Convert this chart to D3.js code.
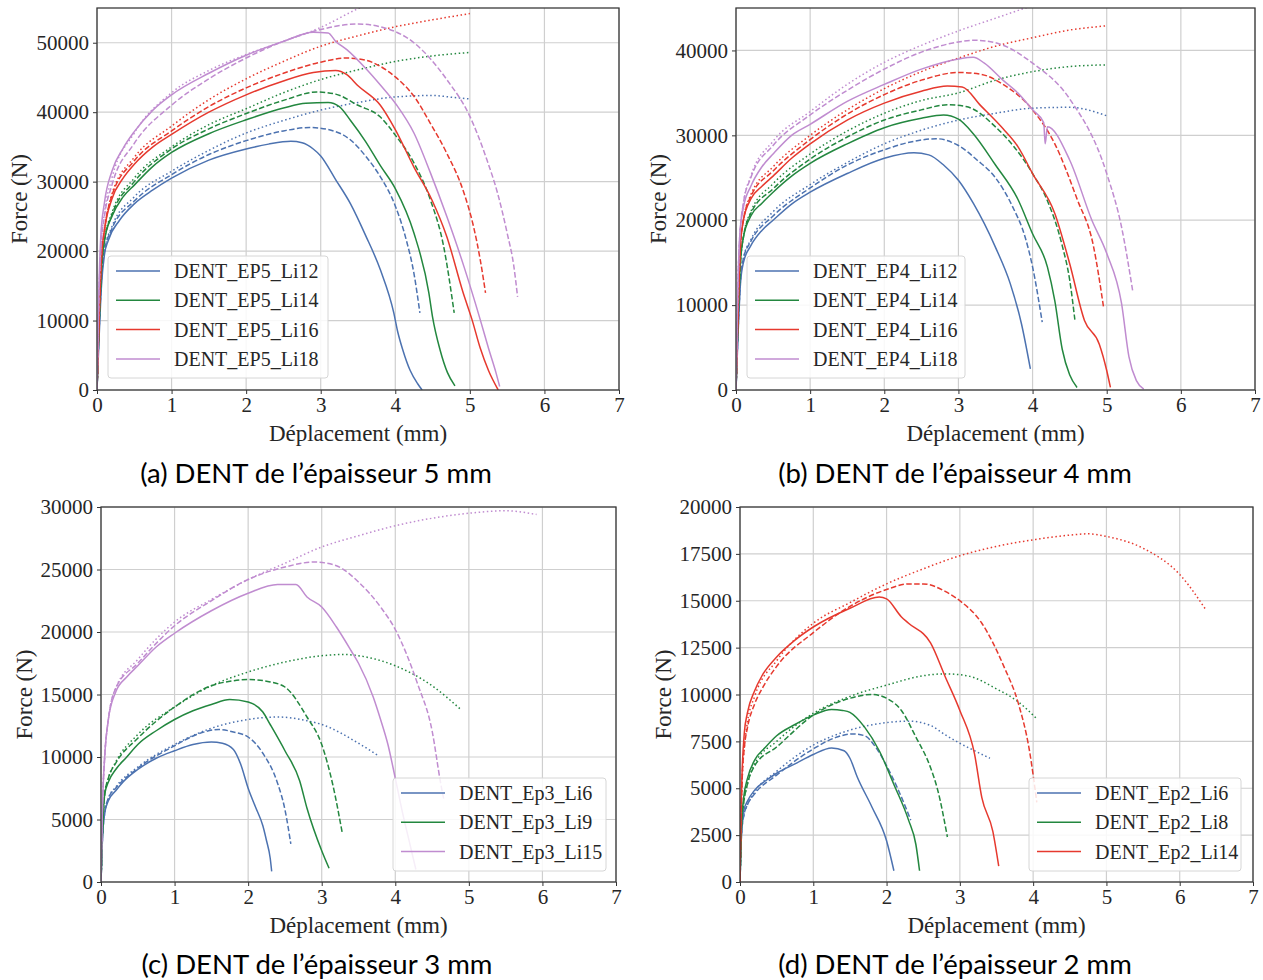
<!DOCTYPE html>
<html><head><meta charset="utf-8">
<script src="https://cdn.jsdelivr.net/npm/d3@7"></script>
<style>body{margin:0;background:#fff}</style>
</head><body><svg id="c" width="1263" height="980"></svg>
<script>
// ---------- DATA ----------
const xTicks = [0,1,2,3,4,5,6,7];
const yTicksA = [0,10000,20000,30000,40000,50000];
const yTicksB = [0,10000,20000,30000,40000];
const yTicksC = [0,5000,10000,15000,20000,25000,30000];
const yTicksD = [0,2500,5000,7500,10000,12500,15000,17500,20000];

const namesA = ["DENT_EP5_Li12","DENT_EP5_Li14","DENT_EP5_Li16","DENT_EP5_Li18"];
const namesB = ["DENT_EP4_Li12","DENT_EP4_Li14","DENT_EP4_Li16","DENT_EP4_Li18"];
const namesC = ["DENT_Ep3_Li6","DENT_Ep3_Li9","DENT_Ep3_Li15"];
const namesD = ["DENT_Ep2_Li6","DENT_Ep2_Li8","DENT_Ep2_Li14"];

const captions = ["(a) DENT de l’épaisseur 5 mm","(b) DENT de l’épaisseur 4 mm","(c) DENT de l’épaisseur 3 mm","(d) DENT de l’épaisseur 2 mm"];

// Panel (a) – 5 mm
const a_Li12_exp = [[0,0],[0.03,8000],[0.06,15000],[0.1,19500],[0.15,21500],[0.3,24400],[0.5,26800],[0.75,28800],[1.0,30500],[1.5,33100],[2.0,34700],[2.3,35400],[2.6,35800],[2.75,35600],[2.9,34700],[3.0,33700],[3.2,30300],[3.4,26800],[3.6,22300],[3.8,17300],[3.98,11100],[4.03,8500],[4.1,5800],[4.2,2800],[4.3,900],[4.36,0]];
const a_Li12_sim = [[0,0],[0.03,9000],[0.06,16000],[0.1,20000],[0.2,23200],[0.5,27200],[1.0,31000],[1.5,33900],[2.0,35900],[2.5,37300],[2.85,37800],[3.1,37500],[3.4,36000],[3.6,33700],[3.8,30700],[4.0,26500],[4.15,21500],[4.25,16800],[4.33,11100]];
const a_Li12_mod = [[0,0],[0.03,9000],[0.06,16000],[0.1,20000],[0.2,23500],[0.5,27800],[1.0,31500],[1.5,34500],[2.0,37000],[2.5,38800],[3.0,40300],[3.5,41400],[4.0,42200],[4.5,42400],[4.8,42100],[5.0,41900]];
const a_Li14_exp = [[0,0],[0.03,10000],[0.06,17500],[0.1,21500],[0.2,25000],[0.35,27800],[0.5,29500],[0.75,32200],[1.0,34200],[1.5,36900],[2.0,38900],[2.5,40600],[2.8,41300],[3.1,41400],[3.25,40800],[3.4,38800],[3.6,35800],[3.8,32300],[4.0,29000],[4.25,22600],[4.45,14000],[4.5,10500],[4.6,5800],[4.7,2500],[4.8,600]];
const a_Li14_sim = [[0,0],[0.03,10000],[0.06,17500],[0.1,21500],[0.2,25200],[0.5,30000],[1.0,34700],[1.5,37600],[2.0,39800],[2.5,41700],[2.95,42900],[3.2,42600],[3.5,41000],[3.8,39300],[4.0,36700],[4.25,32700],[4.47,27400],[4.65,20600],[4.79,11100]];
const a_Li14_mod = [[0,0],[0.03,10000],[0.06,17500],[0.1,21500],[0.2,25500],[0.5,30500],[1.0,35000],[1.5,38200],[2.0,40500],[2.5,42800],[3.0,44700],[3.5,46100],[4.0,47300],[4.5,48100],[5.0,48600]];
const a_Li16_exp = [[0,0],[0.03,11000],[0.06,19000],[0.1,23000],[0.2,27500],[0.35,30500],[0.5,32500],[0.75,35000],[1.0,36800],[1.5,40000],[2.0,42500],[2.5,44500],[2.9,45700],[3.2,46000],[3.35,45400],[3.5,43800],[3.8,41000],[4.0,37500],[4.25,32100],[4.49,27400],[4.69,22100],[4.91,14000],[5.03,10100],[5.14,6000],[5.25,2800],[5.38,0]];
const a_Li16_sim = [[0,0],[0.03,11000],[0.06,19000],[0.1,23000],[0.2,28000],[0.5,33000],[1.0,37300],[1.5,40800],[2.0,43500],[2.5,45600],[3.0,47200],[3.35,47800],[3.6,47500],[3.8,46600],[4.02,44900],[4.25,42300],[4.47,38400],[4.69,34100],[4.92,28400],[5.05,23500],[5.14,18700],[5.21,14000]];
const a_Li16_mod = [[0,0],[0.03,11000],[0.06,19000],[0.1,23000],[0.2,28200],[0.5,33500],[1.0,38000],[1.5,41800],[2.0,44800],[2.5,47300],[3.0,49500],[3.5,51000],[4.0,52300],[4.5,53300],[5.0,54200]];
const a_Li18_exp = [[0,0],[0.02,12000],[0.05,22000],[0.1,27000],[0.2,31500],[0.35,34800],[0.5,37200],[0.75,40300],[1.0,42500],[1.5,45600],[2.0,48200],[2.5,50200],[2.9,51500],[3.1,51400],[3.2,50200],[3.35,49000],[3.62,46100],[3.8,43900],[4.02,41000],[4.25,37000],[4.47,31300],[4.69,25000],[4.92,17800],[5.14,10100],[5.25,6000],[5.35,2500],[5.4,500]];
const a_Li18_sim = [[0,0],[0.02,11000],[0.05,20000],[0.1,25000],[0.2,29500],[0.5,35500],[1.0,41000],[1.5,44800],[2.0,47800],[2.5,50200],[3.0,51900],[3.5,52700],[3.8,52300],[4.25,50000],[4.69,44700],[5.0,39400],[5.23,33100],[5.37,28400],[5.5,22600],[5.59,17800],[5.64,13400]];
const a_Li18_mod = [[0,0],[0.02,11000],[0.05,20000],[0.1,25500],[0.2,30500],[0.5,37000],[1.0,42800],[1.5,46000],[2.0,48300],[2.5,50200],[3.0,52200],[3.5,54900],[4.0,57000]];

// Panel (b) – 4 mm
const b_Li12_exp = [[0,0],[0.03,7000],[0.06,12500],[0.1,15000],[0.2,17000],[0.35,18800],[0.5,20000],[0.75,21900],[1.0,23300],[1.5,25500],[2.0,27300],[2.4,27950],[2.6,27700],[2.8,26500],[3.0,24700],[3.2,22000],[3.5,16800],[3.7,12500],[3.85,7800],[3.97,2500]];
const b_Li12_sim = [[0,0],[0.03,7500],[0.06,13000],[0.1,15500],[0.2,17500],[0.5,20500],[1.0,23800],[1.5,26500],[2.0,28300],[2.4,29300],[2.7,29600],[3.0,28800],[3.25,27100],[3.5,25000],[3.73,21600],[3.9,18000],[4.0,14500],[4.13,8000]];
const b_Li12_mod = [[0,0],[0.03,7500],[0.06,13000],[0.1,15500],[0.2,17700],[0.5,21000],[1.0,24200],[1.5,26800],[2.0,29000],[2.5,30600],[3.0,31800],[3.5,32600],[4.0,33200],[4.5,33300],[5.0,32300]];
const b_Li14_exp = [[0,0],[0.03,9000],[0.06,15000],[0.1,18000],[0.2,20500],[0.35,22000],[0.5,23300],[0.75,25200],[1.0,26700],[1.5,29000],[2.0,30900],[2.5,32000],[2.8,32400],[3.0,31900],[3.2,30200],[3.5,26500],[3.8,22500],[4.0,18400],[4.2,14500],[4.3,10500],[4.4,4800],[4.5,1800],[4.6,300]];
const b_Li14_sim = [[0,0],[0.03,9000],[0.06,15000],[0.1,18000],[0.2,20800],[0.5,23700],[1.0,27200],[1.5,29800],[2.0,31800],[2.5,33000],[2.85,33600],[3.1,33400],[3.5,31000],[4.0,25500],[4.2,22300],[4.4,17000],[4.5,13000],[4.57,8300]];
const b_Li14_mod = [[0,0],[0.03,9000],[0.06,15000],[0.1,18000],[0.2,21000],[0.5,24300],[1.0,27800],[1.5,30500],[2.0,32600],[2.5,34100],[3.0,35000],[3.5,36500],[4.0,37500],[4.5,38100],[5.0,38300]];
const b_Li16_exp = [[0,0],[0.03,10000],[0.06,17000],[0.1,20000],[0.2,22500],[0.35,24000],[0.5,25200],[0.75,27300],[1.0,29000],[1.5,31800],[2.0,33800],[2.5,35200],[2.85,35800],[3.05,35700],[3.3,33500],[3.6,30800],[3.8,28700],[4.0,25500],[4.3,20800],[4.5,14900],[4.7,8200],[4.9,5400],[5.0,2300],[5.05,300]];
const b_Li16_sim = [[0,0],[0.03,10000],[0.06,17000],[0.1,20000],[0.2,22800],[0.5,25800],[1.0,29500],[1.5,32500],[2.0,34800],[2.5,36500],[3.0,37400],[3.3,37200],[3.6,36000],[4.0,33000],[4.3,29000],[4.6,22500],[4.82,17000],[4.96,9600]];
const b_Li16_mod = [[0,0],[0.03,10000],[0.06,17000],[0.1,20000],[0.2,23000],[0.5,26300],[1.0,30000],[1.5,33000],[2.0,35500],[2.5,37500],[3.0,39100],[3.5,40500],[4.0,41500],[4.5,42400],[5.0,42900]];
const b_Li18_exp = [[0,0],[0.02,10000],[0.05,18000],[0.1,21500],[0.2,24000],[0.35,26300],[0.5,27800],[0.75,30000],[1.0,31300],[1.5,34000],[2.0,36000],[2.5,37800],[3.0,39000],[3.2,39200],[3.35,38500],[3.6,36500],[3.8,35000],[4.0,33000],[4.15,31500],[4.17,29000],[4.2,31000],[4.5,27100],[4.8,20000],[5.0,16100],[5.2,10200],[5.3,3900],[5.4,1100],[5.5,100]];
const b_Li18_sim = [[0,0],[0.02,10000],[0.05,18000],[0.1,22000],[0.2,25000],[0.5,28800],[1.0,32400],[1.5,35300],[2.0,37800],[2.5,39800],[3.0,41000],[3.2,41200],[3.5,40900],[4.0,38500],[4.5,34300],[5.0,25500],[5.2,19200],[5.35,11700]];
const b_Li18_mod = [[0,0],[0.02,10000],[0.05,18000],[0.1,22000],[0.2,25200],[0.5,29300],[1.0,32800],[1.5,36000],[2.0,38600],[2.5,40600],[3.0,42300],[3.5,43800],[4.0,45300]];

// Panel (c) – 3 mm
const c_Li6_exp = [[0,0],[0.02,3500],[0.05,5500],[0.1,6500],[0.2,7300],[0.3,8000],[0.5,9000],[0.75,9900],[1.0,10500],[1.25,11000],[1.5,11200],[1.65,11100],[1.8,10600],[1.9,9400],[2.0,7500],[2.1,6000],[2.2,4500],[2.25,3300],[2.3,1900],[2.32,850]];
const c_Li6_sim = [[0,0],[0.02,3500],[0.05,5500],[0.1,6700],[0.2,7500],[0.5,9100],[1.0,10900],[1.3,11800],[1.6,12200],[1.8,12000],[2.0,11600],[2.2,10300],[2.4,7900],[2.5,5800],[2.58,3050]];
const c_Li6_mod = [[0,0],[0.02,3500],[0.05,5500],[0.1,6700],[0.2,7600],[0.5,9200],[1.0,11000],[1.5,12300],[2.0,13000],[2.4,13200],[2.8,12900],[3.0,12600],[3.5,11100],[3.77,10100]];
const c_Li9_exp = [[0,0],[0.02,4000],[0.05,7000],[0.1,8000],[0.2,9000],[0.35,10000],[0.5,11000],[0.75,12100],[1.0,13000],[1.25,13700],[1.5,14200],[1.75,14600],[2.0,14400],[2.2,13600],[2.3,12600],[2.5,10500],[2.7,8100],[2.8,5900],[3.0,2500],[3.1,1100]];
const c_Li9_sim = [[0,0],[0.02,4000],[0.05,7000],[0.1,8300],[0.2,9500],[0.5,11500],[1.0,14000],[1.5,15700],[1.8,16100],[2.0,16200],[2.3,16000],[2.5,15600],[2.8,13200],[3.0,11000],[3.15,7800],[3.28,3900]];
const c_Li9_mod = [[0,0],[0.02,4000],[0.05,7000],[0.1,8300],[0.2,9600],[0.5,11800],[1.0,14000],[1.5,15700],[2.0,16800],[2.5,17600],[3.0,18100],[3.3,18200],[3.6,18000],[4.0,17300],[4.5,15700],[4.89,13800]];
const c_Li15_exp = [[0,0],[0.02,6000],[0.05,10000],[0.1,13000],[0.2,15200],[0.35,16400],[0.5,17300],[0.75,18800],[1.0,19900],[1.5,21700],[2.0,23100],[2.4,23800],[2.65,23800],[2.8,22800],[3.0,22000],[3.2,20400],[3.4,18500],[3.5,17500],[3.7,14800],[3.8,13000],[3.9,11000],[4.0,8300],[4.1,5500],[4.2,3000],[4.28,1000]];
const c_Li15_sim = [[0,0],[0.02,6000],[0.05,10000],[0.1,13000],[0.2,15500],[0.5,17500],[1.0,20500],[1.5,22500],[2.0,24200],[2.5,25200],[2.9,25600],[3.2,25300],[3.5,24000],[3.8,22000],[4.0,20200],[4.3,15900],[4.5,12100],[4.62,7800],[4.66,6600]];
const c_Li15_mod = [[0,0],[0.02,6000],[0.05,10000],[0.1,13000],[0.2,15500],[0.5,17800],[1.0,20800],[1.5,22600],[2.0,24200],[2.5,25500],[3.0,26800],[3.5,27700],[4.0,28500],[4.5,29100],[5.0,29500],[5.5,29700],[5.92,29400]];

// Panel (d) – 2 mm
const d_Li6_exp = [[0,0],[0.02,2500],[0.05,3800],[0.1,4300],[0.2,4900],[0.35,5400],[0.5,5800],[0.75,6300],[1.0,6800],[1.25,7150],[1.42,7000],[1.5,6600],[1.6,5600],[1.8,4000],[2.0,2200],[2.1,600]];
const d_Li6_sim = [[0,0],[0.02,2500],[0.05,3500],[0.1,4100],[0.2,4700],[0.5,5700],[1.0,7100],[1.3,7700],[1.55,7900],[1.7,7800],[1.85,7200],[2.0,6200],[2.15,5000],[2.33,3300]];
const d_Li6_mod = [[0,0],[0.02,2500],[0.05,3500],[0.1,4100],[0.2,4800],[0.5,5900],[1.0,7300],[1.5,8100],[2.0,8500],[2.3,8580],[2.6,8350],[2.8,7850],[3.0,7400],[3.2,7000],[3.41,6600]];
const d_Li8_exp = [[0,0],[0.02,3000],[0.05,4500],[0.1,5500],[0.2,6500],[0.35,7200],[0.5,7800],[0.75,8400],[1.0,8900],[1.25,9200],[1.4,9150],[1.5,9050],[1.7,8260],[1.9,7000],[2.1,5200],[2.3,3300],[2.4,2000],[2.45,600]];
const d_Li8_sim = [[0,0],[0.02,3000],[0.05,4200],[0.1,5200],[0.2,6200],[0.5,7200],[1.0,8900],[1.5,9800],[1.8,10000],[2.0,9800],[2.2,9160],[2.4,7730],[2.6,6100],[2.7,4870],[2.83,2400]];
const d_Li8_mod = [[0,0],[0.02,3000],[0.05,4200],[0.1,5200],[0.2,6300],[0.5,7500],[1.0,9000],[1.5,9900],[2.0,10500],[2.5,11000],[2.8,11100],[3.1,11000],[3.5,10300],[3.8,9600],[4.05,8700]];
const d_Li14_exp = [[0,0],[0.01,3000],[0.03,6000],[0.06,8000],[0.1,9000],[0.2,10200],[0.3,11000],[0.5,12000],[0.75,12900],[1.0,13600],[1.5,14600],[1.9,15200],[2.0,15100],[2.2,14150],[2.3,13800],[2.6,12750],[2.8,10950],[3.0,9150],[3.2,6830],[3.3,4500],[3.45,2700],[3.53,850]];
const d_Li14_sim = [[0,0],[0.01,2500],[0.03,5500],[0.06,7200],[0.1,8200],[0.2,9500],[0.3,10300],[0.5,11500],[1.0,13300],[1.5,14700],[2.0,15600],[2.3,15900],[2.5,15900],[2.8,15500],[3.0,15000],[3.3,13800],[3.6,11500],[3.8,9500],[3.95,7000],[4.05,4250]];
const d_Li14_mod = [[0,0],[0.01,2500],[0.03,5500],[0.06,7200],[0.1,8500],[0.2,9900],[0.5,11800],[1.0,13800],[1.5,14900],[2.0,15900],[2.5,16700],[3.0,17400],[3.5,17900],[4.0,18250],[4.5,18500],[4.75,18570],[5.0,18430],[5.5,17800],[6.0,16400],[6.36,14500]];

// ---------- STYLE / LAYOUT ----------
const COL = {blue:"#4c72b0", green:"#23873f", red:"#e6392e", purple:"#c08cd0"};
const SERIF = "'Liberation Serif','Times New Roman',serif";
const SANS = "Lato,'Open Sans',sans-serif";

const panels = [
  {box:{l:97,r:619,t:8,b:390}, yMax:55000, yTicks:yTicksA, names:namesA, cols:[COL.blue,COL.green,COL.red,COL.purple],
   data:[[a_Li12_exp,a_Li12_sim,a_Li12_mod],[a_Li14_exp,a_Li14_sim,a_Li14_mod],[a_Li16_exp,a_Li16_sim,a_Li16_mod],[a_Li18_exp,a_Li18_sim,a_Li18_mod]],
   legend:{x:108,y:256,w:220,h:122}, yTitleX:19, cap:captions[0], capX:316, capY:483},
  {box:{l:736,r:1255,t:8,b:390}, yMax:45000, yTicks:yTicksB, names:namesB, cols:[COL.blue,COL.green,COL.red,COL.purple],
   data:[[b_Li12_exp,b_Li12_sim,b_Li12_mod],[b_Li14_exp,b_Li14_sim,b_Li14_mod],[b_Li16_exp,b_Li16_sim,b_Li16_mod],[b_Li18_exp,b_Li18_sim,b_Li18_mod]],
   legend:{x:747,y:256,w:218,h:122}, yTitleX:658, cap:captions[1], capX:955, capY:483},
  {box:{l:101,r:616,t:507,b:882}, yMax:30000, yTicks:yTicksC, names:namesC, cols:[COL.blue,COL.green,COL.purple],
   data:[[c_Li6_exp,c_Li6_sim,c_Li6_mod],[c_Li9_exp,c_Li9_sim,c_Li9_mod],[c_Li15_exp,c_Li15_sim,c_Li15_mod]],
   legend:{x:393,y:778,w:213,h:93}, yTitleX:24, cap:captions[2], capX:317, capY:974},
  {box:{l:740,r:1253,t:507,b:882}, yMax:20000, yTicks:yTicksD, names:namesD, cols:[COL.blue,COL.green,COL.red],
   data:[[d_Li6_exp,d_Li6_sim,d_Li6_mod],[d_Li8_exp,d_Li8_sim,d_Li8_mod],[d_Li14_exp,d_Li14_sim,d_Li14_mod]],
   legend:{x:1029,y:778,w:212,h:93}, yTitleX:663, cap:captions[3], capX:955, capY:974}
];

const svg = d3.select("#c");
const dashes = [null, "5.5,2.4", "1.5,2.6"];

panels.forEach((p, pi) => {
  const {l,r,t,b} = p.box;
  const x = d3.scaleLinear().domain([0,7]).range([l,r]);
  const y = d3.scaleLinear().domain([0,p.yMax]).range([b,t]);
  const g = svg.append("g");

  // grid
  g.append("g").selectAll("line").data(xTicks).join("line")
    .attr("x1",d=>x(d)).attr("x2",d=>x(d)).attr("y1",t).attr("y2",b)
    .attr("stroke","#cfcfcf").attr("stroke-width",1.2);
  g.append("g").selectAll("line").data(p.yTicks).join("line")
    .attr("y1",d=>y(d)).attr("y2",d=>y(d)).attr("x1",l).attr("x2",r)
    .attr("stroke","#cfcfcf").attr("stroke-width",1.2);

  // clip
  const cid = "clip"+pi;
  svg.append("clipPath").attr("id",cid).append("rect")
    .attr("x",l).attr("y",t).attr("width",r-l).attr("height",b-t);

  const line = d3.line().x(d=>x(d[0])).y(d=>y(d[1])).curve(d3.curveMonotoneX);
  const cg = g.append("g").attr("clip-path",`url(#${cid})`);
  p.data.forEach((trip, si) => {
    trip.forEach((arr, k) => {
      cg.append("path").datum(arr).attr("d",line)
        .attr("fill","none").attr("stroke",p.cols[si]).attr("stroke-width",1.5)
        .attr("stroke-dasharray",dashes[k]);
    });
  });

  // axes
  const xa = g.append("g").attr("transform",`translate(0,${b})`)
    .call(d3.axisBottom(x).tickValues(xTicks).tickFormat(d3.format("d")).tickSize(4).tickPadding(3));
  const ya = g.append("g").attr("transform",`translate(${l},0)`)
    .call(d3.axisLeft(y).tickValues(p.yTicks).tickFormat(d3.format("d")).tickSize(4).tickPadding(4));
  [xa,ya].forEach(a=>{
    a.select(".domain").remove();
    a.selectAll("line").attr("stroke","#333");
    a.selectAll("text").attr("font-family",SERIF).attr("font-size",21).attr("fill","#262626");
  });

  // frame
  g.append("rect").attr("x",l).attr("y",t).attr("width",r-l).attr("height",b-t)
    .attr("fill","none").attr("stroke","#3a3a3a").attr("stroke-width",1.3);

  // axis titles
  g.append("text").attr("x",(l+r)/2).attr("y",b+51).attr("text-anchor","middle")
    .attr("font-family",SERIF).attr("font-size",23).attr("fill","#262626").text("Déplacement (mm)");
  g.append("text").attr("transform",`translate(${p.yTitleX},${(t+b)/2}) rotate(-90)`)
    .attr("text-anchor","middle").attr("dy","0.35em")
    .attr("font-family",SERIF).attr("font-size",23).attr("fill","#262626").text("Force (N)");

  // legend
  const L = p.legend;
  const lg = g.append("g");
  lg.append("rect").attr("x",L.x).attr("y",L.y).attr("width",L.w).attr("height",L.h)
    .attr("rx",3).attr("fill","white").attr("fill-opacity",0.85).attr("stroke","#d6d6d6");
  p.names.forEach((n,i)=>{
    const yy = L.y + 15 + i*29.3;
    lg.append("line").attr("x1",L.x+8).attr("x2",L.x+52).attr("y1",yy).attr("y2",yy)
      .attr("stroke",p.cols[i]).attr("stroke-width",1.5);
    lg.append("text").attr("x",L.x+66).attr("y",yy).attr("dy","0.35em")
      .attr("font-family",SERIF).attr("font-size",20).attr("fill","#262626").text(n);
  });

  // caption
  svg.append("text").attr("x",p.capX).attr("y",p.capY).attr("text-anchor","middle")
    .attr("font-family",SANS).attr("font-size",27.5).attr("fill","#000").text(p.cap);
});
</script></body></html>
